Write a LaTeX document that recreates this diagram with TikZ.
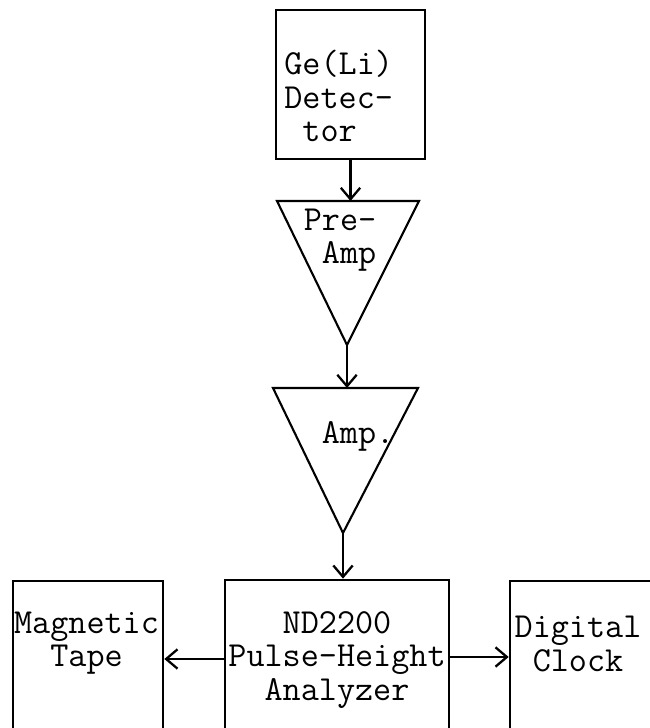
\documentclass[tikz,border=0pt]{standalone}
\usepackage{fontspec}
\usepackage{tikz}
\usetikzlibrary{arrows.meta}

\tikzset{
	blockbox/.style={draw, line width=1.5pt, inner sep=0pt},
	ampline/.style={line width=1.2pt, line join=miter},
	sigarrow/.style={line width=1.3pt, -{Straight Barb[length=6.5pt,width=11pt]}},
	blocktext/.style={font=\ttfamily\fontsize{20}{19}\selectfont, inner sep=0pt}
}

\begin{document}
\begin{tikzpicture}
			%%%%% START %%%%%
			\useasboundingbox (0, 0) rectangle (12.98, 14.56);
			
			\node[blockbox, minimum width=2.98cm, minimum height=2.98cm] (detector) at (7.01, 12.87) {};
			\node[blocktext, align=left, anchor=west] (detectortext) at (5.68, 12.64) {Ge(Li)\\Detec-\\~tor};
			
			\coordinate (preamp-nw) at (5.54, 10.54);
			\coordinate (preamp-ne) at (8.38, 10.54);
			\coordinate (preamp-tip) at (6.94, 7.66);
			\draw[ampline] (preamp-nw) -- (preamp-ne) -- (preamp-tip) -- cycle;
			\node[blocktext, align=left] (preamptext) at (6.80, 9.76) {Pre-\\~Amp};
			
			\coordinate (amp-nw) at (5.46, 6.80);
			\coordinate (amp-ne) at (8.36, 6.80);
			\coordinate (amp-tip) at (6.86, 3.90);
			\draw[ampline] (amp-nw) -- (amp-ne) -- (amp-tip) -- cycle;
			\node[blocktext] (amptext) at (7.16, 5.84) {Amp.};
			
			\node[blockbox, minimum width=4.48cm, minimum height=3.36cm] (analyzer) at (6.74, 1.28) {};
			\node[blocktext, align=center] (analyzertext) at (6.74, 1.36) {ND2200\\Pulse-Height\\Analyzer};
			
			\node[blockbox, minimum width=3.0cm, minimum height=3.34cm] (tape) at (1.76, 1.27) {};
			\node[blocktext, align=center] (tapetext) at (1.73, 1.70) {Magnetic\\Tape};
			
			\node[blockbox, minimum width=3.1cm, minimum height=3.34cm] (clock) at (11.75, 1.27) {};
			\node[blocktext, align=center] (clocktext) at (11.56, 1.68) {Digital\\Clock};
			
			\draw[sigarrow] (detector.south) -- (detector.south |- preamp-nw);
			\draw[sigarrow] (preamp-tip) -- (preamp-tip |- amp-nw);
			\draw[sigarrow] (amp-tip) -- (amp-tip |- analyzer.north);
			
			\coordinate (tapelevel) at (0, 1.38);
			\coordinate (clocklevel) at (0, 1.42);
			\draw[sigarrow] (analyzer.west |- tapelevel) -- (tape.east |- tapelevel);
			\draw[sigarrow] (analyzer.east |- clocklevel) -- (clock.west |- clocklevel);
			%%%%% END %%%%%
\end{tikzpicture}
\end{document}
